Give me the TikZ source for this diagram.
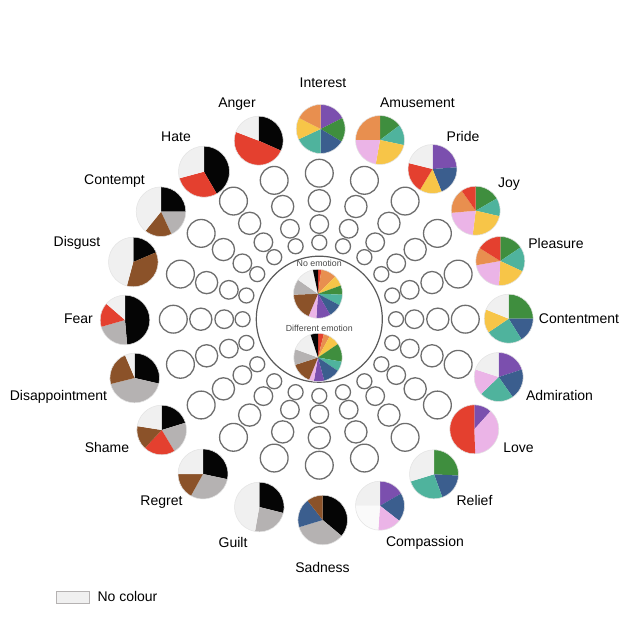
\documentclass[tikz,border=0pt]{standalone}
\usepackage{fontspec}
\setmainfont{Liberation Sans}
\definecolor{cPu}{HTML}{7B4FAE}
\definecolor{cGr}{HTML}{3F8E3E}
\definecolor{cBl}{HTML}{3B5E8E}
\definecolor{cTe}{HTML}{4FB39D}
\definecolor{cYe}{HTML}{F7C548}
\definecolor{cOr}{HTML}{E88F4F}
\definecolor{cPk}{HTML}{EBB4E7}
\definecolor{cRd}{HTML}{E4402F}
\definecolor{cBr}{HTML}{8B5229}
\definecolor{cGy}{HTML}{B5B2B2}
\definecolor{cBk}{HTML}{050505}
\definecolor{cNc}{HTML}{F0F0F0}
\definecolor{cWh}{HTML}{FAFAFA}
\definecolor{ringgray}{HTML}{6E6E6E}
\definecolor{midgray}{HTML}{5A5A5A}
\definecolor{edgegray}{HTML}{E3E3E3}
\definecolor{smalltext}{HTML}{4A4A4A}
\tikzset{
  ring/.style={draw=ringgray, line width=1.3pt},
  pieedge/.style={draw=edgegray, line width=0.5pt},
  lab/.style={inner sep=0pt, anchor=base, font=\fontsize{14pt}{16pt}\selectfont},
  small/.style={inner sep=0pt, anchor=base, text=smalltext, font=\fontsize{8.8pt}{10pt}\selectfont},
}
\newcommand\drawpie[3]{%
  \foreach \sa/\sb/\sc in {#3}{%
    \fill[\sc] (#1) -- ++({90-\sa}:#2) arc[start angle={90-\sa}, end angle={90-\sb}, radius=#2] -- cycle;
  }%
  \draw[pieedge] (#1) circle[radius=#2];
}
\begin{document}
\begin{tikzpicture}[x=1pt,y=1pt]
\useasboundingbox (0,0) rectangle (639,-639);
\fill[white] (0,0) rectangle (639,-639);
\coordinate (ctr) at (319.3,-319.2);
\node[draw=midgray, line width=1.2pt, circle, minimum size=126pt, inner sep=0pt] (mid) at (ctr) {};
\foreach \k in {0,...,19}{
  \foreach \d/\r in {76.7/7.5, 95.1/9.3, 118.5/11.1, 146/13.9}{
    \draw[ring] (ctr) ++({\k*18}:\d) circle[radius=\r];
  }
}
% centre pies
\node[small] (tNo) at (319.2,-266) {No emotion};
\node[small] (tDiff) at (319.3,-331.5) {Different emotion};
\coordinate (pNo) at (318,-293.8);
\coordinate (pDiff) at (318,-357.5);
\drawpie{pNo}{24.5}{0/8/cRd, 8/45/cOr, 45/70/cYe, 70/92/cGr, 92/118/cTe, 118/150/cBl, 150/184/cPu, 184/203/cPk, 203/268/cBr, 268/305/cGy, 305/348/cNc, 348/360/cBk}
\drawpie{pDiff}{24.2}{0/14/cRd, 14/29/cOr, 29/56/cYe, 56/100/cGr, 100/124/cTe, 124/165/cBl, 165/190/cPu, 190/202/cPk, 202/252/cBr, 252/290/cGy, 290/342/cNc, 342/360/cBk}
% emotion pies
\coordinate (pInterest) at (320.7,-129);
\coordinate (pAmusement) at (380,-140);
\coordinate (pPride) at (432.5,-169);
\coordinate (pJoy) at (475.7,-210.7);
\coordinate (pPleasure) at (500.3,-261);
\coordinate (pContentment) at (508.7,-318.7);
\coordinate (pAdmiration) at (498.7,-377);
\coordinate (pLove) at (474.3,-429.3);
\coordinate (pRelief) at (434,-474.3);
\coordinate (pCompassion) at (380,-505.7);
\coordinate (pSadness) at (322.7,-520);
\coordinate (pGuilt) at (259.3,-507);
\coordinate (pRegret) at (203,-474);
\coordinate (pShame) at (161.7,-430);
\coordinate (pDisappointment) at (134.7,-378);
\coordinate (pFear) at (125,-320);
\coordinate (pDisgust) at (133.3,-262);
\coordinate (pContempt) at (161,-211.7);
\coordinate (pHate) at (204,-171.7);
\coordinate (pAnger) at (258.7,-140.7);
\drawpie{pInterest}{24.5}{0/63/cPu, 63/121/cGr, 121/180/cBl, 180/245/cTe, 245/297/cYe, 297/360/cOr}
\drawpie{pAmusement}{24.5}{0/53/cGr, 53/102/cTe, 102/190/cYe, 190/270/cPk, 270/360/cOr}
\drawpie{pPride}{24.5}{0/86/cPu, 86/158/cBl, 158/211/cYe, 211/284/cRd, 284/360/cNc}
\drawpie{pJoy}{24.5}{0/60/cGr, 60/103/cTe, 103/187/cYe, 187/265/cPk, 265/325/cOr, 325/360/cRd}
\drawpie{pPleasure}{24.5}{0/56/cGr, 56/115/cTe, 115/183/cYe, 183/260/cPk, 260/302/cOr, 302/360/cRd}
\drawpie{pContentment}{24.5}{0/90/cGr, 90/148/cBl, 148/236/cTe, 236/292/cYe, 292/360/cNc}
\drawpie{pAdmiration}{24.5}{0/72/cPu, 72/145/cBl, 145/226/cTe, 226/288/cPk, 288/360/cNc}
\drawpie{pLove}{24.5}{0/42/cPu, 42/178/cPk, 178/360/cRd}
\drawpie{pRelief}{24.5}{0/93/cGr, 93/160/cBl, 160/253/cTe, 253/360/cNc}
\drawpie{pCompassion}{24.5}{0/60/cPu, 60/128/cBl, 128/184/cPk, 184/270/cWh, 270/360/cNc}
\drawpie{pSadness}{24.8}{0/130/cBk, 130/253/cGy, 253/322/cBl, 322/360/cBr}
\drawpie{pGuilt}{24.8}{0/104/cBk, 104/190/cGy, 190/360/cNc}
\drawpie{pRegret}{25}{0/102/cBk, 102/209/cGy, 209/270/cBr, 270/360/cNc}
\drawpie{pShame}{24.8}{0/73/cBk, 73/149/cGy, 149/223/cRd, 223/279/cBr, 279/360/cNc}
\drawpie{pDisappointment}{24.8}{0/103/cBk, 103/256/cGy, 256/337/cBr, 337/360/cNc}
\drawpie{pFear}{24.8}{0/175/cBk, 175/254/cGy, 254/311/cRd, 311/360/cNc}
\drawpie{pDisgust}{24.8}{0/67/cBk, 67/195/cBr, 195/360/cNc}
\drawpie{pContempt}{24.8}{0/90/cBk, 90/155/cGy, 155/219/cBr, 219/360/cNc}
\drawpie{pHate}{25.5}{0/150/cBk, 150/255/cRd, 255/360/cNc}
\drawpie{pAnger}{24.5}{0/114/cBk, 114/291/cRd, 291/360/cNc}
% labels
\node[lab] (lInterest) at (323,-88) {Interest};
\node[lab] (lAmusement) at (417.5,-108) {Amusement};
\node[lab] (lPride) at (463,-141.5) {Pride};
\node[lab] (lJoy) at (509,-187) {Joy};
\node[lab] (lPleasure) at (556,-248) {Pleasure};
\node[lab] (lContentment) at (579,-323) {Contentment};
\node[lab] (lAdmiration) at (559.5,-400) {Admiration};
\node[lab] (lLove) at (518.5,-452) {Love};
\node[lab] (lRelief) at (474.5,-505) {Relief};
\node[lab] (lCompassion) at (425,-546.5) {Compassion};
\node[lab] (lSadness) at (322.5,-572) {Sadness};
\node[lab] (lGuilt) at (233,-547) {Guilt};
\node[lab] (lRegret) at (161.5,-505) {Regret};
\node[lab] (lShame) at (107,-452) {Shame};
\node[lab] (lDisappointment) at (58.5,-400) {Disappointment};
\node[lab] (lFear) at (78.5,-323) {Fear};
\node[lab] (lDisgust) at (77,-246) {Disgust};
\node[lab] (lContempt) at (114.5,-185) {Contempt};
\node[lab] (lHate) at (176,-141.5) {Hate};
\node[lab] (lAnger) at (237,-108) {Anger};
% legend
\node[draw=cGy, line width=0.8pt, fill=cNc, minimum width=33.3pt, minimum height=11.6pt, inner sep=0pt] (legbox) at (72.7,-597.5) {};
\node[lab, anchor=base west] (legtext) at (97.3,-601.7) {No colour};
\end{tikzpicture}
\end{document}
